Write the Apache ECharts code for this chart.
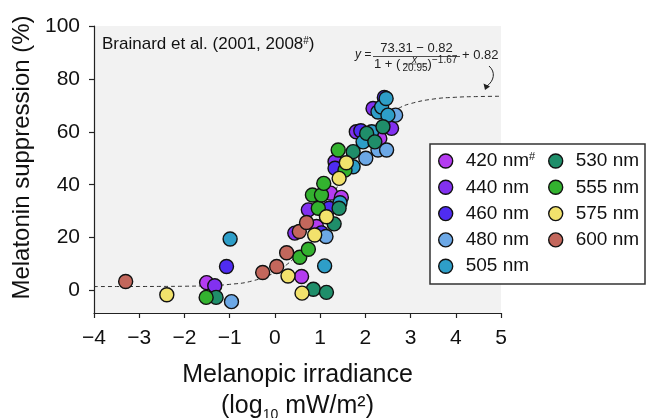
<!DOCTYPE html>
<html><head><meta charset="utf-8">
<script src="https://cdn.jsdelivr.net/npm/echarts@6/dist/echarts.min.js"></script>
<style>html,body{margin:0;padding:0;background:#fff}#c{width:647px;height:418px}</style>
</head><body><div id="c"></div>
<script>
// ---- data ----
const xTicks = [-4, -3, -2, -1, 0, 1, 2, 3, 4, 5];
const yTicks = [0, 20, 40, 60, 80, 100];
const wavelengths = ['420 nm', '440 nm', '460 nm', '480 nm', '505 nm', '530 nm', '555 nm', '575 nm', '600 nm'];
const colors = ['#B43CF0', '#8231F0', '#4F2CF2', '#6CA8E6', '#2E9EC8', '#1F8E6A', '#33B22F', '#F2E26C', '#C3675C'];
const s420 = [[-1.51, 3.0], [0.59, 5.3], [0.92, 24.2], [1.23, 36.8], [1.47, 35.2], [2.32, 57.5]];
const s440 = [[-1.33, 1.8], [0.44, 21.7], [0.74, 30.5], [1.33, 48.7], [1.80, 60.0], [2.17, 68.8], [2.58, 61.3]];
const s460 = [[-1.07, 9.1], [1.03, 21.8], [1.20, 31.1], [1.33, 46.2], [1.90, 60.4], [2.42, 73.0]];
const s480 = [[-0.96, -4.2], [1.13, 20.4], [2.01, 50.0], [2.28, 53.1], [2.47, 53.1], [2.67, 66.3]];
const s505 = [[-0.99, 19.5], [1.10, 9.3], [1.44, 33.2], [1.73, 46.8], [1.95, 56.2], [2.14, 60.0], [2.28, 67.5], [2.36, 69.4], [2.50, 66.3], [2.46, 72.6]];
const s530 = [[-1.30, -2.6], [0.85, 0.5], [1.14, -0.7], [1.31, 25.2], [1.42, 31.1], [1.73, 52.5], [2.03, 59.4], [2.21, 56.2], [2.39, 61.9]];
const s555 = [[-1.52, -2.6], [0.55, 12.6], [0.74, 15.6], [0.96, 31.1], [0.83, 36.1], [1.03, 36.1], [1.08, 40.5], [1.55, 45.5], [1.40, 53.1]];
const s575 = [[-2.39, -1.6], [0.29, 5.5], [0.60, -1.0], [0.88, 21.0], [1.14, 27.9], [1.42, 42.4], [1.58, 48.3]];
const s600 = [[-3.30, 3.4], [-0.27, 6.8], [0.04, 9.1], [0.26, 14.3], [0.54, 22.3], [0.70, 25.7]];
const fitX = [-4, -3.5, -3, -2.5, -2, -1.5, -1, -0.5, 0, 0.25, 0.5, 0.75, 1, 1.25, 1.5, 1.75, 2, 2.25, 2.5, 2.75, 3, 3.5, 4, 4.5, 5];
const fitY = [1.5, 1.51, 1.52, 1.55, 1.62, 1.82, 2.33, 3.62, 6.76, 9.62, 13.72, 19.37, 26.51, 34.76, 43.29, 51.22, 57.84, 62.93, 66.54, 69.02, 70.66, 72.38, 73.06, 73.33, 73.44];
const seriesData = [s420, s440, s460, s480, s505, s530, s555, s575, s600];

// ---- chart ----
const FONT = "'Liberation Sans', Arial, Helvetica, sans-serif";
const chart = echarts.init(document.getElementById('c'), null, {renderer: 'canvas'});

const scatterSeries = wavelengths.map((name, i) => ({
  name: name,
  type: 'scatter',
  data: seriesData[i],
  symbol: 'circle',
  symbolSize: 14,
  itemStyle: {color: colors[i], borderColor: '#111', borderWidth: 1.4, opacity: 1},
  z: 3 + i
}));

const legendBase = {
  orient: 'vertical',
  icon: 'circle',
  itemWidth: 14,
  itemHeight: 14,
  itemGap: 6.3,
  padding: 0,
  selectedMode: false,
  itemStyle: {borderColor: '#111', borderWidth: 1.4},
  textStyle: {
    fontFamily: FONT, fontSize: 19, color: '#111', lineHeight: 20, padding: [0, 0, 0, 8],
    rich: {
      t: {fontFamily: FONT, fontSize: 19, color: '#111', lineHeight: 20},
      s: {fontFamily: FONT, fontSize: 11, color: '#111', verticalAlign: 'top', lineHeight: 20, padding: [0, 0, 8, 0]}
    }
  },
  formatter: function (n) { return n === '420 nm' ? '{t|420 nm}{s|#}' : '{t|' + n + '}'; }
};

const option = {
  animation: false,
  backgroundColor: '#fff',
  title: {
    text: '{a|Brainard et al. (2001, 2008}{s|#}{a|)}',
    left: 102, top: 36, padding: 0,
    textStyle: {
      fontWeight: 'normal',
      rich: {
        a: {fontFamily: FONT, fontSize: 17, fontWeight: 'normal', color: '#111'},
        s: {fontFamily: FONT, fontSize: 10, fontWeight: 'normal', color: '#111', verticalAlign: 'top', padding: [0, 0, 6, 0]}
      }
    }
  },
  legend: [
    Object.assign({}, legendBase, {data: wavelengths.slice(0, 5), left: 438, top: 151}),
    Object.assign({}, legendBase, {data: wavelengths.slice(5), left: 548, top: 151})
  ],
  grid: {left: 94, right: 146, top: 26, bottom: 105, show: true, backgroundColor: '#f2f2f2', borderWidth: 0,
         outerBoundsMode: 'none', containLabel: false},
  xAxis: {
    type: 'value', min: -4, max: 5, interval: 1,
    axisLine: {onZero: false, lineStyle: {color: '#222', width: 1.2}},
    axisTick: {show: true, inside: false, length: 5, lineStyle: {color: '#222', width: 1.2}},
    splitLine: {show: false},
    axisLabel: {
      fontFamily: FONT, fontSize: 21, color: '#111', margin: 15,
      formatter: v => String(v).replace('-', '\u2212')
    },
    name: '{a|Melanopic irradiance}\n{a|(log}{sub|10}{a| mW/m\u00B2)}',
    nameLocation: 'middle', nameGap: 47,
    nameTextStyle: {
      rich: {
        a: {fontFamily: FONT, fontSize: 25, color: '#111', lineHeight: 31},
        sub: {fontFamily: FONT, fontSize: 14, color: '#111', verticalAlign: 'bottom', lineHeight: 14}
      }
    }
  },
  yAxis: {
    type: 'value', min: -8.5, max: 100,
    axisLine: {show: true, onZero: false, lineStyle: {color: '#222', width: 1.2}},
    axisTick: {show: true, inside: false, length: 5, customValues: yTicks, lineStyle: {color: '#222', width: 1.2}},
    splitLine: {show: false},
    axisLabel: {fontFamily: FONT, fontSize: 21, color: '#111', margin: 14, customValues: yTicks},
    name: 'Melatonin suppression (%)',
    nameLocation: 'middle', nameRotate: 90, nameGap: 57,
    nameTextStyle: {fontFamily: FONT, fontSize: 24, color: '#111', padding: [0, 0, 0, 24]}
  },
  graphic: [
    {type: 'rect', shape: {x: 430, y: 144, width: 215, height: 140}, style: {fill: '#fff', stroke: '#333', lineWidth: 1.5}, z: 1},
    {type: 'text', x: 355, y: 55, style: {text: 'y =', font: 'italic 12px ' + FONT, fill: '#222', verticalAlign: 'middle'}, z: 10},
    {type: 'text', x: 416.5, y: 48, style: {text: '73.31 \u2212 0.82', font: '13px ' + FONT, fill: '#222', align: 'center', verticalAlign: 'middle'}, z: 10},
    {type: 'line', shape: {x1: 373, y1: 56.5, x2: 460, y2: 56.5}, style: {stroke: '#222', lineWidth: 0.8}, z: 10},
    {type: 'text', x: 374, y: 64, style: {text: '1 + (', font: '13px ' + FONT, fill: '#222', verticalAlign: 'middle'}, z: 10},
    {type: 'text', x: 414.5, y: 60.5, style: {text: 'x', font: 'italic 10px ' + FONT, fill: '#222', align: 'center', verticalAlign: 'middle'}, z: 10},
    {type: 'line', shape: {x1: 403, y1: 64, x2: 427, y2: 64}, style: {stroke: '#222', lineWidth: 0.6}, z: 10},
    {type: 'text', x: 415, y: 68.5, style: {text: '20.95', font: '10px ' + FONT, fill: '#222', align: 'center', verticalAlign: 'middle'}, z: 10},
    {type: 'text', x: 427.5, y: 64, style: {text: ')', font: '13px ' + FONT, fill: '#222', verticalAlign: 'middle'}, z: 10},
    {type: 'text', x: 432, y: 60, style: {text: '\u22121.67', font: '10px ' + FONT, fill: '#222', verticalAlign: 'middle'}, z: 10},
    {type: 'text', x: 462, y: 55, style: {text: '+ 0.82', font: '13px ' + FONT, fill: '#222', verticalAlign: 'middle'}, z: 10},
    {type: 'bezierCurve', shape: {x1: 489, y1: 66, cpx1: 496, cpy1: 72, cpx2: 494, cpy2: 81, x2: 487, y2: 86}, style: {stroke: '#222', lineWidth: 1, fill: null}, z: 10},
    {type: 'polygon', shape: {points: [[485, 90], [483.5, 83.5], [490, 86.5]]}, style: {fill: '#222'}, z: 10}
  ],
  series: [
    {
      name: 'fit', type: 'line', data: fitX.map((x, i) => [x, fitY[i]]),
      smooth: true, showSymbol: false, symbol: 'none', silent: true,
      lineStyle: {color: '#333', width: 1, type: [4, 3]}, z: 2
    }
  ].concat(scatterSeries)
};
chart.setOption(option);
</script>
</body></html>
